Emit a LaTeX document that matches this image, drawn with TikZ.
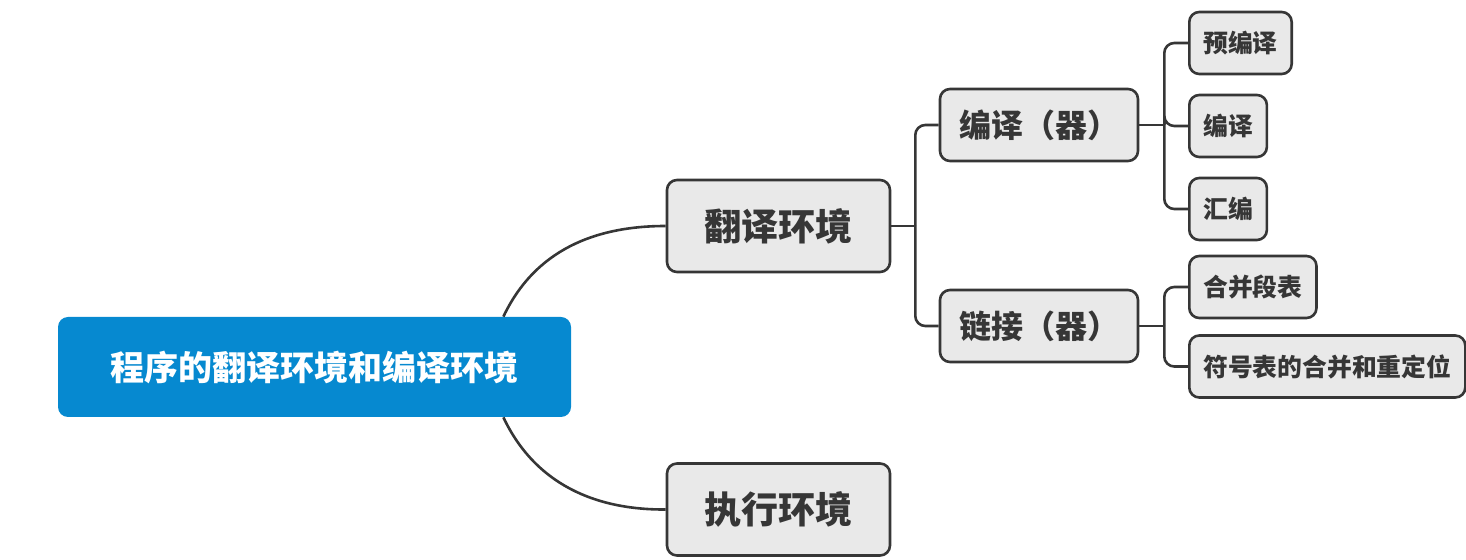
\documentclass[tikz,border=0pt]{standalone}
\usepackage{fontspec}
\newfontfamily\cjk{Noto Sans CJK SC}
\definecolor{rootblue}{HTML}{0689D0}
\definecolor{boxgray}{HTML}{E9E9E9}
\definecolor{linegray}{HTML}{363636}
\tikzset{
  box/.style={draw=linegray,fill=boxgray,rounded corners=5pt,text=linegray,inner sep=0pt,line width=1.3pt},
  rootbox/.style={fill=rootblue,rounded corners=5pt,text=white,inner sep=0pt,minimum width=256.5pt,minimum height=50pt,font=\cjk\bfseries\fontsize{17pt}{20pt}\selectfont},
  lvone/.style={box,minimum width=111.5pt,minimum height=46pt,font=\cjk\bfseries\fontsize{18.5pt}{22pt}\selectfont},
  lvtwo/.style={box,minimum width=99pt,minimum height=36pt,font=\cjk\bfseries\fontsize{16pt}{19pt}\selectfont},
  lvthree/.style={box,anchor=west,inner xsep=7pt,minimum height=31pt,font=\cjk\bfseries\fontsize{12.4pt}{15pt}\selectfont},
  conn/.style={draw=linegray,line width=1.3pt,rounded corners=5pt}
}
\begin{document}
\begin{tikzpicture}[x=.5pt,y=-.5pt]
\useasboundingbox (0,0) rectangle (1466,560);
% main nodes
\node[rootbox] (root) at (314.5,367) {程序的翻译环境和编译环境};
\node[lvone] (fy) at (778.5,226) {翻译环境};
\node[lvone] (zx) at (778.5,509.5) {执行环境};
\node[lvtwo] (by) at (1039,125) {编译（器）};
\node[lvtwo] (lj) at (1039,326) {链接（器）};
\node[lvthree] (yby) at (1188,43) {预编译};
\node[lvthree] (bianyi) at (1188,126) {编译};
\node[lvthree] (hb) at (1188,209) {汇编};
\node[lvthree] (hbdb) at (1188,287) {合并段表};
\node[lvthree] (fhb) at (1188,366.5) {符号表的合并和重定位};
% curves from the root
\draw[conn] ([xshift=-34pt]root.north east)..controls (535,250) and (595,226)..(fy.west);
\draw[conn] ([xshift=-34pt]root.south east)..controls (535,484) and (595,510)..(zx.west);
% brackets
\draw[conn] (fy.east)--++(24,0);
\foreach \t in {by,lj}{\draw[conn] ([xshift=12pt]fy.east)|-(\t.west);}
\draw[conn] (by.east)--++(25,0);
\foreach \t in {yby,bianyi,hb}{\draw[conn] ([xshift=12.5pt]by.east)|-(\t.west);}
\draw[conn] (lj.east)--++(25,0);
\foreach \t in {hbdb,fhb}{\draw[conn] ([xshift=12.5pt]lj.east)|-(\t.west);}
\end{tikzpicture}
\end{document}
